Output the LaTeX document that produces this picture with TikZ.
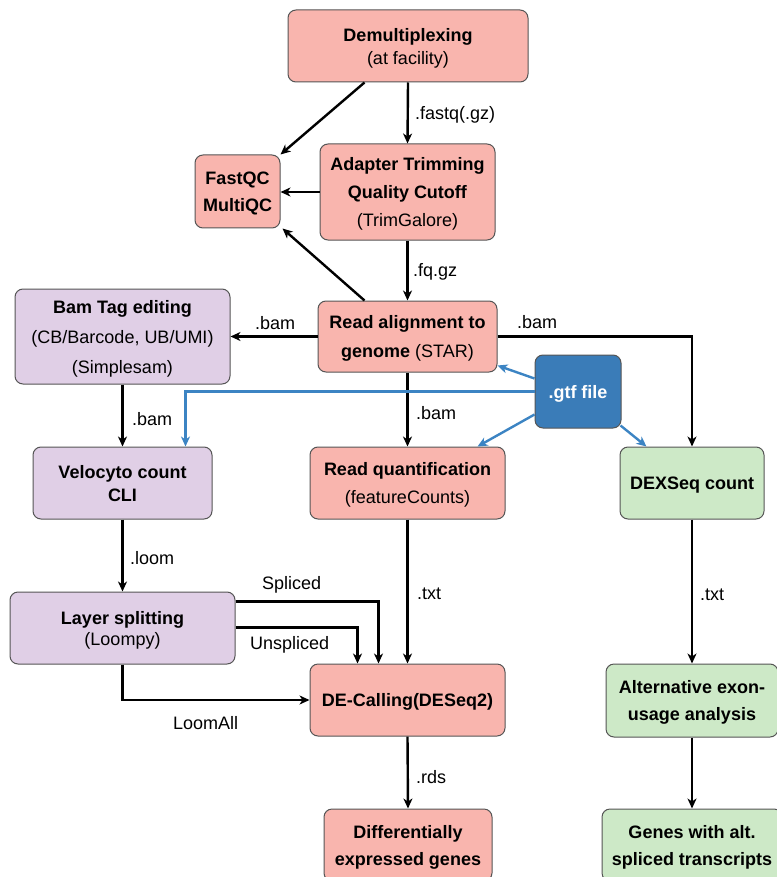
\documentclass[tikz,border=0pt]{standalone}
\usepackage{fontspec}
\setmainfont{Liberation Sans}
\usetikzlibrary{arrows.meta,calc}
\definecolor{pinkf}{HTML}{F9B5AE}
\definecolor{purf}{HTML}{E0CFE6}
\definecolor{grnf}{HTML}{CDE9C7}
\definecolor{bluef}{HTML}{3A7CB8}
\definecolor{bluel}{HTML}{3C84C3}
\definecolor{bord}{HTML}{555555}
\newcommand{\fs}[1]{\fontsize{18}{#1}\selectfont}
\begin{document}
\begin{tikzpicture}[x=1pt,y=-1pt,
  box/.style={draw=bord, line width=1pt, rounded corners=8pt, align=center, inner sep=0pt, text depth=0pt},
  pinkbox/.style={box, fill=pinkf},
  purbox/.style={box, fill=purf},
  grnbox/.style={box, fill=grnf},
  bluebox/.style={box, fill=bluef, text=white},
  arr/.style={line width=2.4pt, -{Stealth[length=10pt,width=9pt,inset=3pt]}},
  barr/.style={arr, draw=bluel},
  lbl/.style={font=\fs{20}, inner sep=0pt, anchor=west}
]
\useasboundingbox (0,0) rectangle (776,877);

% nodes
\node[pinkbox, minimum width=240pt, minimum height=72pt, font=\fs{23}] (demux) at (408,46) {\textbf{Demultiplexing}\\(at facility)};
\node[pinkbox, minimum width=85pt, minimum height=73pt, font=\fs{27}] (fastqc) at (237.5,191.5) {\textbf{FastQC}\\\textbf{MultiQC}};
\node[pinkbox, minimum width=175pt, minimum height=96pt, font=\fs{28}] (trim) at (407.5,192) {\textbf{Adapter Trimming}\\\textbf{Quality Cutoff}\\(TrimGalore)};
\node[purbox, minimum width=215pt, minimum height=95pt, font=\fs{30}] (bamtag) at (122.5,336.5) {\textbf{Bam Tag editing}\\(CB/Barcode, UB/UMI)\\(Simplesam)};
\node[pinkbox, minimum width=179pt, minimum height=71pt, font=\fs{29}] (align) at (407.5,336.5) {\textbf{Read alignment to}\\\textbf{genome} (STAR)};
\node[bluebox, minimum width=86pt, minimum height=73pt, font=\fs{20}] (gtf) at (578,391.5) {\textbf{.gtf file}};
\node[purbox, minimum width=179pt, minimum height=72pt, font=\fs{23}] (velo) at (122.5,483) {\textbf{Velocyto count}\\\textbf{CLI}};
\node[pinkbox, minimum width=195pt, minimum height=72pt, font=\fs{28}] (quant) at (407.5,483) {\textbf{Read quantification}\\(featureCounts)};
\node[grnbox, minimum width=144pt, minimum height=72pt, font=\fs{20}] (dexseq) at (692,483) {\textbf{DEXSeq count}};
\node[purbox, minimum width=225pt, minimum height=72pt, font=\fs{21}] (layer) at (122.5,628) {\textbf{Layer splitting}\\(Loompy)};
\node[pinkbox, minimum width=195pt, minimum height=72pt, font=\fs{20}] (decall) at (407.5,700) {\textbf{DE-Calling(DESeq2)}};
\node[grnbox, minimum width=172pt, minimum height=73pt, font=\fs{27}] (alt) at (692,700.5) {\textbf{Alternative exon-}\\\textbf{usage analysis}};
\node[pinkbox, minimum width=168pt, minimum height=72pt, font=\fs{27}] (diff) at (408,845) {\textbf{Differentially}\\\textbf{expressed genes}};
\node[grnbox, minimum width=180pt, minimum height=72pt, font=\fs{27}] (genes) at (692,845) {\textbf{Genes with alt.}\\\textbf{spliced transcripts}};

% black connectors
\draw[arr] ($(demux.south west)+(77,0)$) -- (fastqc.north east);
\draw[arr] (demux.south) -- (trim.north);
\draw[arr] (trim.west) -- (trim.west -| fastqc.east);
\draw[arr] ($(align.north west)+(47,0)$) -- ($(fastqc.south east)+(2,0)$);
\draw[arr] (trim.south) -- (align.north);
\draw[arr] (align.west) -- (bamtag.east);
\draw[arr] (align.east) -| (dexseq.north);
\draw[arr] (bamtag.south) -- (velo.north);
\draw[arr] (align.south) -- (quant.north);
\draw[arr] (velo.south) -- (layer.north);
\draw[arr] (quant.south) -- (decall.north);
\draw[arr] ($(layer.north east)+(0,10)$) -| ($(decall.north west)+(69,0)$);
\draw[arr] ($(layer.north east)+(0,36)$) -| ($(decall.north west)+(48,0)$);
\draw[arr] (layer.south) |- (decall.west);
\draw[arr] (dexseq.south) -- (alt.north);
\draw[arr] (decall.south) -- (diff.north);
\draw[arr] (alt.south) -- (genes.north);

% blue connectors
\draw[barr] ($(gtf.west)+(0,-13)$) -- ($(align.south east)+(0,-7)$);
\draw[barr] (gtf.west) -| ($(velo.north east)+(-27,0)$);
\draw[barr] ($(gtf.west)+(0,23)$) -- ($(quant.north east)+(-28,0)$);
\draw[barr] ($(gtf.south east)+(-1,-3)$) -- ($(dexseq.north west)+(27,0)$);

% labels
\node[lbl] (l1) at (415,115) {.fastq(.gz)};
\node[lbl] (l2) at (413,272) {.fq.gz};
\node[lbl] (l3) at (255,323) {.bam};
\node[lbl] (l4) at (517,322) {.bam};
\node[lbl] (l5) at (132,419) {.bam};
\node[lbl] (l6) at (416,413) {.bam};
\node[lbl] (l7) at (130,558) {.loom};
\node[lbl] (l8) at (262,585) {Spliced};
\node[lbl] (l9) at (250,645) {Unspliced};
\node[lbl] (l10) at (173,723) {LoomAll};
\node[lbl] (l11) at (417,594) {.txt};
\node[lbl] (l12) at (700,595) {.txt};
\node[lbl] (l13) at (416,777) {.rds};
\end{tikzpicture}
\end{document}
